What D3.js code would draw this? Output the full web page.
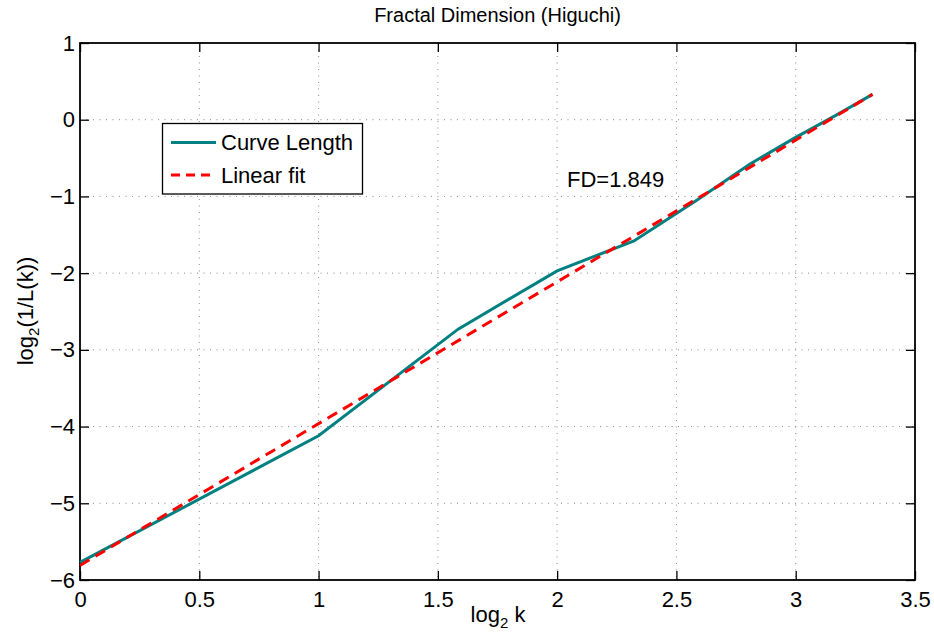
<!DOCTYPE html>
<html><head><meta charset="utf-8">
<script src="https://cdn.jsdelivr.net/npm/d3@7"></script>
<style>
html,body{margin:0;padding:0;background:#fff;}
svg{display:block;font-family:"Liberation Sans",Arial,Helvetica,sans-serif;}
</style></head>
<body>
<script>
// Data
const logK = [0, 1, 1.585, 2, 2.322, 2.585, 2.807, 3, 3.17, 3.322];
const logInvL = [-5.77, -4.12, -2.73, -1.97, -1.58, -1.05, -0.58, -0.23, 0.06, 0.33];
const fitX = [0, 3.322];
const fitY = [-5.81, 0.33];
const xTicks = [0, 0.5, 1, 1.5, 2, 2.5, 3, 3.5];
const yTicks = [-6, -5, -4, -3, -2, -1, 0, 1];
const titleText = "Fractal Dimension (Higuchi)";
const fdLabel = "FD=1.849";
const legendLabels = ["Curve Length", "Linear fit"];

const W = 934, H = 635;
const m = {left: 80, top: 43, right: 934 - 915, bottom: 635 - 580};
const svg = d3.select("body").append("svg").attr("width", W).attr("height", H);

const x = d3.scaleLinear().domain([0, 3.5]).range([m.left, W - m.right]);
const y = d3.scaleLinear().domain([-6, 1]).range([H - m.bottom, m.top]);

const fs = 22;

// grid
const grid = svg.append("g").attr("stroke", "#8a8a8a").attr("stroke-width", 1).attr("stroke-dasharray", "1,5.5");
xTicks.slice(1, -1).forEach(t => grid.append("line").attr("x1", x(t)).attr("x2", x(t)).attr("y1", y(1)).attr("y2", y(-6)));
yTicks.slice(1, -1).forEach(t => grid.append("line").attr("y1", y(t)).attr("y2", y(t)).attr("x1", x(0)).attr("x2", x(3.5)));

// axes (ticks inward)
const tl = 9;
const fmt = d => (d < 0 ? "\u2212" + Math.abs(d) : String(d));
const xAxB = d3.axisBottom(x).tickValues(xTicks).tickSize(-tl).tickPadding(11).tickFormat(fmt);
const xAxT = d3.axisTop(x).tickValues(xTicks).tickSize(-tl).tickFormat("");
const yAxL = d3.axisLeft(y).tickValues(yTicks).tickSize(-tl).tickPadding(5).tickFormat(fmt);
const yAxR = d3.axisRight(y).tickValues(yTicks).tickSize(-tl).tickFormat("");
function style(g){
  g.selectAll(".domain").remove();
  g.selectAll("line").attr("stroke", "#000").attr("stroke-width", 1.3);
  g.selectAll("text").attr("fill", "#000").style("font-size", fs + "px").style("font-family", '"Liberation Sans",Arial,sans-serif');
}
svg.append("g").attr("transform", `translate(0,${y(-6)})`).call(xAxB).call(style);
svg.append("g").attr("transform", `translate(0,${y(1)})`).call(xAxT).call(style);
svg.append("g").attr("transform", `translate(${x(0)},0)`).call(yAxL).call(style);
svg.append("g").attr("transform", `translate(${x(3.5)},0)`).call(yAxR).call(style);

// box
svg.append("rect").attr("x", x(0)).attr("y", y(1)).attr("width", x(3.5) - x(0)).attr("height", y(-6) - y(1))
  .attr("fill", "none").attr("stroke", "#000").attr("stroke-width", 1.8);

// lines
const line = d3.line().x(d => x(d[0])).y(d => y(d[1]));
svg.append("path").datum(logK.map((k, i) => [k, logInvL[i]])).attr("d", line)
  .attr("fill", "none").attr("stroke", "#008080").attr("stroke-width", 3);
svg.append("path").datum(fitX.map((k, i) => [k, fitY[i]])).attr("d", line)
  .attr("fill", "none").attr("stroke", "#ff0000").attr("stroke-width", 3).attr("stroke-dasharray", "11,7");

// FD label
svg.append("text").attr("x", 567).attr("y", 187).attr("font-size", 22).attr("fill", "#000").text(fdLabel);

// title
svg.append("text").attr("x", (x(0) + x(3.5)) / 2).attr("y", 22).attr("text-anchor", "middle")
  .attr("font-size", 20).attr("fill", "#000").text(titleText);

// x label
const xl = svg.append("text").attr("x", 498).attr("y", 622).attr("text-anchor", "middle").attr("font-size", fs).attr("fill", "#000");
xl.append("tspan").text("log");
xl.append("tspan").attr("font-size", 15).attr("dy", 6).text("2");
xl.append("tspan").attr("dy", -6).text(" k");

// y label
const yl = svg.append("text").attr("transform", `translate(33,${311}) rotate(-90)`).attr("text-anchor", "middle").attr("font-size", fs).attr("fill", "#000");
yl.append("tspan").text("log");
yl.append("tspan").attr("font-size", 15).attr("dy", 6).text("2");
yl.append("tspan").attr("dy", -6).text("(1/L(k))");

// legend
const lg = svg.append("g");
lg.append("rect").attr("x", 162.5).attr("y", 123.5).attr("width", 200).attr("height", 70.5)
  .attr("fill", "#fff").attr("stroke", "#000").attr("stroke-width", 1.3);
const legY = [142.5, 175];
const legColor = ["#008080", "#ff0000"];
const legDash = [null, "9,6"];
legendLabels.forEach((lab, i) => {
  lg.append("line").attr("x1", 171).attr("x2", 216).attr("y1", legY[i]).attr("y2", legY[i])
    .attr("stroke", legColor[i]).attr("stroke-width", 3).attr("stroke-dasharray", legDash[i]);
  lg.append("text").attr("x", 221).attr("y", legY[i] + 7.5).attr("font-size", 22).attr("fill", "#000").text(lab);
});
</script>
</body></html>
